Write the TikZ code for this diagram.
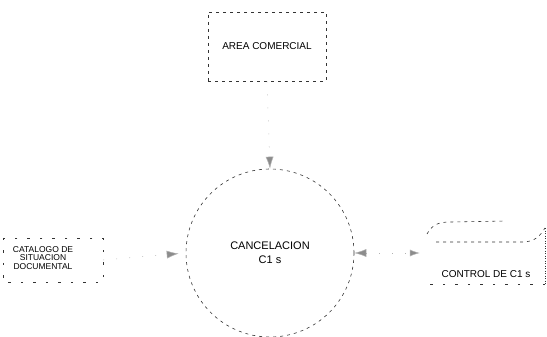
\documentclass[tikz,border=0pt]{standalone}
\usepackage{fontspec}
\setmainfont{Liberation Sans}
\usetikzlibrary{arrows.meta}
\begin{document}
\begin{tikzpicture}[x=1pt,y=-1pt,
  outline/.style={draw=black!80, line width=0.6pt, dash pattern=on 3pt off 4pt},
  faintline/.style={draw=black!80, line width=0.6pt, dash pattern=on 2.5pt off 10pt},
  lbl/.style={font=\fontsize{10}{11}\selectfont, text=black, align=center, inner sep=0pt},
  tip/.style={-{Latex[length=12pt,width=8pt,fill=black!45]}},
  flow/.style={draw=black!30, line width=0.5pt, dash pattern=on 1pt off 12pt}]
\useasboundingbox (0,0) rectangle (547,337);

% entities
\node[outline, rectangle, minimum width=118pt, minimum height=69pt, lbl] (area) at (267,46.5) {AREA COMERCIAL};
\node[outline, circle, minimum size=168pt, inner sep=0pt, lbl, font=\fontsize{11}{14}\selectfont] (proc) at (270,253) {CANCELACION\\C1 s};
\node[rectangle, minimum width=100pt, minimum height=44pt] (cat) at (53,260) {};
\draw[faintline] (cat.north west) rectangle (cat.south east);
\node[lbl, font=\fontsize{8.5}{8.8}\selectfont] (cattxt) at (43,258) {CATALOGO DE\\SITUACION\\DOCUMENTAL};

% store CONTROL DE C1 s
\node[minimum width=120pt, minimum height=62pt, inner sep=0pt] (store) at (485,253) {};
\node[lbl] (storetxt) at (486,274) {CONTROL DE C1 s};
\draw[outline] (427,234) .. controls (432,225) and (438,222) .. (450,222) -- (505,221);
\draw[outline] (436,242) -- (522,242) .. controls (535,242) and (540,236) .. (545,228);
\draw[draw=black!80, line width=0.6pt, dash pattern=on 1pt off 1.5pt] (545,228) -- (545,284);
\draw[faintline] (545,284) -- (425,284);

% flows
\draw[flow, tip] (area.south) -- (proc.north);
\draw[flow, tip, shorten >=7pt] (cat.east) -- (proc.west);
\draw[flow, {Latex[length=12pt,width=8pt,fill=black!45]}-{Latex[length=10pt,width=7pt,fill=black!45]}, shorten >=5pt] (proc.east) -- (store.west);
\end{tikzpicture}
\end{document}
